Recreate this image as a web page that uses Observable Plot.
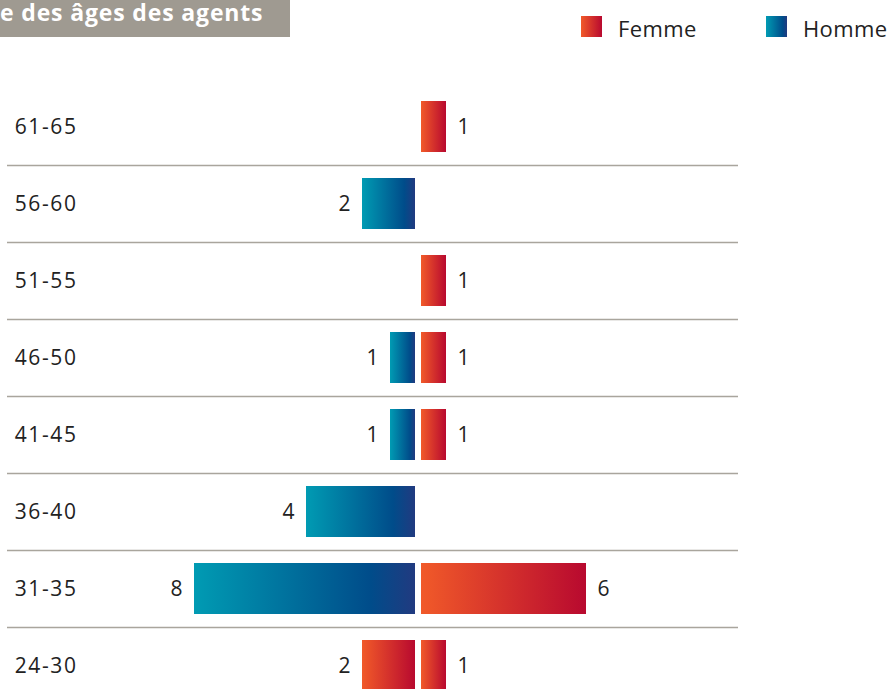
<!DOCTYPE html>
<html><head><meta charset="utf-8">
<script src="https://cdn.jsdelivr.net/npm/d3@7"></script>
<script src="https://cdn.jsdelivr.net/npm/@observablehq/plot@0.6"></script>
<style>
html,body{margin:0;padding:0;background:#fff;}
body{width:889px;height:689px;overflow:hidden;font-family:"Open Sans",sans-serif;color:#222;}
#head{position:relative;height:60px;}
#titre{position:absolute;left:0;top:0;width:290px;height:37px;background:#9f9a91;overflow:hidden;}
#titre span{position:absolute;left:0;top:0.5px;white-space:nowrap;color:#fff;font-weight:700;font-size:23px;line-height:23px;letter-spacing:0.85px;}
.leg{position:absolute;top:16px;height:21px;width:21px;}
.legt{position:absolute;top:16.5px;font-size:22px;line-height:22px;letter-spacing:0.4px;color:#222;white-space:nowrap;}
#chart svg{display:block;}
#chart g[aria-label="y-axis tick label"] text{letter-spacing:1.6px;}
</style>
</head><body>
<div id="head">
  <div id="titre"><span>e des âges des agents</span></div>
</div>
<div id="chart"></div>
<script>
const ages = ["61-65","56-60","51-55","46-50","41-45","36-40","31-35","24-30"];
const femme = [1,0,1,1,1,0,6,1];
const homme = [0,2,0,1,1,4,8,2];
// série dont la couleur est portée par la barre de gauche (telle qu'affichée)
const serieGauche = ["Homme","Homme","Homme","Homme","Homme","Homme","Homme","Femme"];
const series = ["Femme","Homme"];

const gradients = {Femme: "url(#gradFemme)", Homme: "url(#gradHomme)"};

// légende
const head = document.getElementById("head");
const legPos = {Femme: [581, 618], Homme: [766, 803]};
const legBg = {Femme: "linear-gradient(to right,#f15a29,#b8092f)", Homme: "linear-gradient(to right,#009bb3,#004c8a 80%,#213a80)"};
series.forEach(s => {
  const sq = document.createElement("div");
  sq.className = "leg"; sq.style.left = legPos[s][0] + "px"; sq.style.background = legBg[s];
  head.appendChild(sq);
  const t = document.createElement("div");
  t.className = "legt"; t.style.left = legPos[s][1] + "px"; t.textContent = s;
  head.appendChild(t);
});

const droite = ages.map((a, i) => ({age: a, v: femme[i], serie: "Femme"})).filter(d => d.v > 0);
const gauche = ages.map((a, i) => ({age: a, v: homme[i], serie: serieGauche[i]})).filter(d => d.v > 0);

const chart = Plot.plot({
  width: 889,
  height: 629,
  marginLeft: 7,
  marginRight: 151,
  marginTop: 0,
  marginBottom: 0,
  style: {fontFamily: "'Open Sans', sans-serif", fontSize: "21px", color: "#222", background: "#fff"},
  x: {domain: [-8, 6], range: [194, 586], axis: null},
  y: {domain: ages, range: [28, 644.8], paddingInner: 0.34, paddingOuter: 0.17, label: null},
  marks: [
    Plot.ruleY(ages.slice(0, -1), {y: d => d, dy: 38.55, stroke: "#a9a59d", strokeWidth: 1.5}),
    Plot.barX(droite, {y: "age", x1: 0, x2: "v", fill: d => gradients[d.serie], insetLeft: 3}),
    Plot.barX(gauche, {y: "age", x1: 0, x2: d => -d.v, fill: d => gradients[d.serie], insetRight: 3}),
    Plot.text(droite, {y: "age", x: "v", text: d => String(d.v), textAnchor: "start", dx: 11, fill: "#222"}),
    Plot.text(gauche, {y: "age", x: d => -d.v, text: d => String(d.v), textAnchor: "end", dx: -12, fill: "#222"}),
    Plot.axisY({tickSize: 0, tickPadding: 0, dx: 70, textAnchor: "end", fill: "#222", label: null, fontSize: 21})
  ]
});

d3.select(chart).insert("defs", ":first-child").html(`
  <linearGradient id="gradFemme" x1="0" x2="1" y1="0" y2="0">
    <stop offset="0" stop-color="#f15a29"/>
    <stop offset="1" stop-color="#b8092f"/>
  </linearGradient>
  <linearGradient id="gradHomme" x1="0" x2="1" y1="0" y2="0">
    <stop offset="0" stop-color="#009bb3"/>
    <stop offset="0.8" stop-color="#004c8a"/>
    <stop offset="1" stop-color="#213a80"/>
  </linearGradient>`);

document.getElementById("chart").appendChild(chart);
</script>
</body></html>
